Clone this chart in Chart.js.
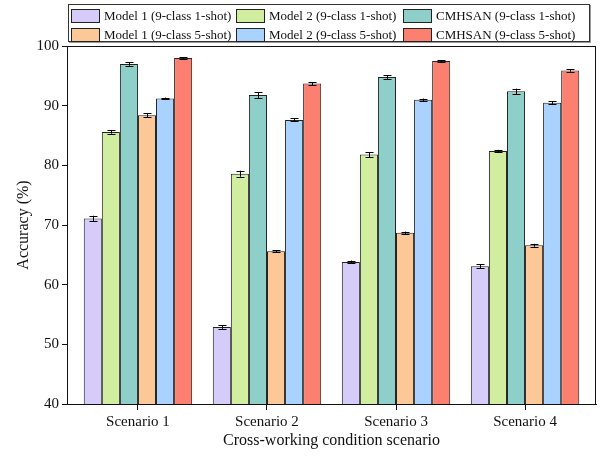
<!DOCTYPE html>
<html lang="en">
<head>
    <meta charset="UTF-8">
    <title>Cross-working condition accuracy</title>
    <script src="https://cdn.jsdelivr.net/npm/chart.js"></script>
    <style>
        body {
            margin: 0;
            background: #fff;
        }

        #wrap {
            position: relative;
            width: 601px;
            height: 456px;
        }

        #legend {
            position: absolute;
            left: 68px;
            top: 4px;
            width: 522px;
            height: 38px;
            border: 1px solid #333;
            box-shadow: 1px 1px 0 #999;
            display: grid;
            grid-template-columns: 165px 167px 190px;
            grid-template-rows: 19px 19px;
            font-family: "Liberation Serif", serif;
            font-size: 13px;
            color: #111;
            box-sizing: border-box;
            padding: 1px 0 0 2px;
        }

        .item {
            display: flex;
            align-items: center;
            white-space: nowrap;
        }

        .box {
            width: 29px;
            height: 14px;
            border: 1px solid #222;
            margin-right: 4px;
            box-sizing: border-box;
        }
    </style>
</head>
<body>
    <div id="wrap">
        <canvas id="myChart" width="601" height="456"></canvas>
        <div id="legend"></div>
    </div>
    <script>
        // scenarios on the x axis
        const categories = ['Scenario 1', 'Scenario 2', 'Scenario 3', 'Scenario 4'];
        const seriesNames = [
            'Model 1 (9-class 1-shot)',
            'Model 2 (9-class 1-shot)',
            'CMHSAN (9-class 1-shot)',
            'Model 1 (9-class 5-shot)',
            'Model 2 (9-class 5-shot)',
            'CMHSAN (9-class 5-shot)'
        ];
        const seriesColors = ['#D5CCFA', '#D1EEA0', '#8FCFC9', '#FDC897', '#A9D3FE', '#FB8070'];

        // accuracy values (%)
        const model1_1shot = [71.1, 52.9, 63.8, 63.1];
        const model2_1shot = [85.6, 78.6, 81.8, 82.4];
        const cmhsan_1shot = [97.0, 91.8, 94.8, 92.4];
        const model1_5shot = [88.4, 65.6, 68.7, 66.6];
        const model2_5shot = [91.2, 87.6, 91.0, 90.5];
        const cmhsan_5shot = [98.0, 93.7, 97.5, 95.9];

        // error half-widths (%)
        const model1_1shot_err = [0.45, 0.3, 0.25, 0.3];
        const model2_1shot_err = [0.3, 0.5, 0.4, 0.2];
        const cmhsan_1shot_err = [0.3, 0.5, 0.3, 0.45];
        const model1_5shot_err = [0.3, 0.2, 0.2, 0.25];
        const model2_5shot_err = [0.15, 0.25, 0.2, 0.2];
        const cmhsan_5shot_err = [0.1, 0.25, 0.1, 0.2];

        const yTicks = [40, 50, 60, 70, 80, 90, 100];

        const values = [model1_1shot, model2_1shot, cmhsan_1shot, model1_5shot, model2_5shot, cmhsan_5shot];
        const errors = [model1_1shot_err, model2_1shot_err, cmhsan_1shot_err, model1_5shot_err, model2_5shot_err, cmhsan_5shot_err];

        const serif = '"Liberation Serif", "Times New Roman", serif';

        // black frame around the plot area
        const frame = {
            id: 'frame',
            afterDraw(chart) {
                const a = chart.chartArea;
                const c = chart.ctx;
                c.save();
                c.strokeStyle = '#111';
                c.lineWidth = 1;
                c.strokeRect(a.left + 0.5, a.top + 0.5, a.right - a.left - 1, a.bottom - a.top);
                c.restore();
            }
        };

        // error bars with caps
        const errorBars = {
            id: 'errorBars',
            afterDatasetsDraw(chart) {
                const c = chart.ctx;
                const y = chart.scales.y;
                c.save();
                c.strokeStyle = '#000';
                c.lineWidth = 1;
                chart.data.datasets.forEach((ds, i) => {
                    const meta = chart.getDatasetMeta(i);
                    meta.data.forEach((bar, j) => {
                        const v = ds.data[j];
                        const e = errors[i][j];
                        const top = y.getPixelForValue(v + e);
                        const bot = y.getPixelForValue(v - e);
                        const x = Math.round(bar.x) + 0.5;
                        c.beginPath();
                        c.moveTo(x, top);
                        c.lineTo(x, bot);
                        c.moveTo(x - 4, Math.round(top) + 0.5);
                        c.lineTo(x + 4, Math.round(top) + 0.5);
                        c.moveTo(x - 4, Math.round(bot) + 0.5);
                        c.lineTo(x + 4, Math.round(bot) + 0.5);
                        c.stroke();
                    });
                });
                c.restore();
            }
        };

        const ctx = document.getElementById('myChart').getContext('2d');
        const myChart = new Chart(ctx, {
            type: 'bar',
            data: {
                labels: categories,
                datasets: seriesNames.map((name, i) => ({
                    label: name,
                    data: values[i],
                    backgroundColor: seriesColors[i],
                    borderColor: '#222',
                    borderWidth: 1,
                    borderSkipped: 'bottom',
                    categoryPercentage: 0.84,
                    barPercentage: 1.0
                }))
            },
            options: {
                responsive: false,
                animation: false,
                layout: {
                    padding: { top: 46, right: 5, left: 14, bottom: 6 }
                },
                plugins: {
                    legend: { display: false },
                    tooltip: { enabled: false }
                },
                scales: {
                    x: {
                        offset: true,
                        // a bit more room at both ends than the usual half category
                        afterBuildTicks(scale) {
                            scale._startValue -= 0.05;
                            scale._valueRange += 0.1;
                        },
                        grid: {
                            display: true,
                            drawOnChartArea: false,
                            offset: false,
                            tickLength: 6,
                            color: '#111'
                        },
                        border: { color: '#111' },
                        ticks: {
                            color: '#111',
                            font: { family: serif, size: 15 },
                            padding: 3
                        },
                        title: {
                            display: true,
                            text: 'Cross-working condition scenario',
                            color: '#111',
                            font: { family: serif, size: 16 },
                            padding: { top: 2, bottom: 0 }
                        },
                        afterFit(scale) { scale.height = 46; }
                    },
                    y: {
                        min: 40,
                        max: 100,
                        afterBuildTicks(scale) {
                            scale.ticks = yTicks.map(v => ({ value: v }));
                        },
                        grid: {
                            display: true,
                            drawOnChartArea: false,
                            tickLength: 5,
                            color: '#111'
                        },
                        border: { color: '#111' },
                        ticks: {
                            color: '#111',
                            font: { family: serif, size: 15 },
                            padding: 3
                        },
                        title: {
                            display: true,
                            text: 'Accuracy (%)',
                            color: '#111',
                            font: { family: serif, size: 16 },
                            padding: { top: 0, bottom: 6 }
                        },
                        afterFit(scale) { scale.width = 53; }
                    }
                }
            },
            plugins: [frame, errorBars]
        });

        // legend in three columns, two rows
        const legend = document.getElementById('legend');
        seriesNames.forEach((name, i) => {
            const item = document.createElement('div');
            item.className = 'item';
            item.innerHTML = '<span class="box" style="background:' + seriesColors[i] + '"></span><span>' + name + '</span>';
            legend.appendChild(item);
        });
    </script>
</body>
</html>
